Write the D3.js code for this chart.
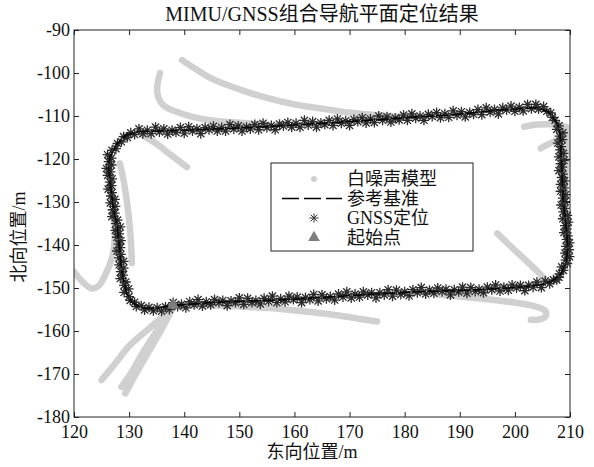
<!DOCTYPE html>
<html>
<head>
<meta charset="utf-8">
<script src="https://cdn.jsdelivr.net/npm/d3@7"></script>
<style>
  body { margin: 0; background: #fff; }
  text { font-family: "Liberation Serif", "Noto Sans CJK SC", serif; fill: #111; }
</style>
</head>
<body>
<div id="chart"></div>
<script>
const chartTitle = "MIMU/GNSS组合导航平面定位结果";
const xLabel = "东向位置/m";
const yLabel = "北向位置/m";
const xTicks = [120, 130, 140, 150, 160, 170, 180, 190, 200, 210];
const yTicks = [-90, -100, -110, -120, -130, -140, -150, -160, -170, -180];
const legendNames = ["白噪声模型", "参考基准", "GNSS定位", "起始点"];

const startPoint = [138.0, -154.0];

// reference trajectory [east, north]
const refPath = [
  [138, -154], [145, -153.4], [150, -153.1], [157, -152.8], [165, -152.2], [172, -151.6],
  [181.5, -150.9], [190, -150.6], [199, -150], [202, -149.7], [205, -149.2], [207, -148.2],
  [208.5, -146.5], [209.3, -144], [209.6, -140.5], [209.3, -136], [208.8, -130], [208.6, -125],
  [208.4, -119], [208.2, -114], [207.6, -111.5], [206, -109], [204, -108], [200, -108.4],
  [197, -108.6], [192, -109.3], [187.5, -109.8], [181, -110.3], [175, -110.9], [166, -111.6],
  [157, -112.3], [148, -112.9], [140, -113.3], [132, -113.6], [129.5, -114.4], [127.8, -116.5],
  [126.5, -119.5], [126.3, -122], [126.6, -126], [127.2, -132], [127.9, -136], [128.2, -140],
  [128.5, -144], [128.8, -147], [129.5, -151], [130.5, -153.3], [132, -154.5], [134, -154.8],
  [136, -154.5], [138, -154]
];

// GNSS fixes [east, north]
const gnssFix = [
  // bottom edge, eastbound
  [138.0, -153.4], [138.8, -154.3], [139.5, -153.8], [140.3, -154.6], [141.0, -153.2], [141.8, -153.9],
  [142.5, -152.7], [143.3, -154.2], [144.0, -153.2], [144.8, -153.9], [145.5, -152.7], [146.3, -153.4],
  [147.0, -152.9], [147.8, -154.1], [148.5, -153.0], [149.3, -153.4], [150.0, -152.3], [150.8, -153.8],
  [151.5, -152.4], [152.3, -153.4], [153.0, -152.9], [153.8, -153.7], [154.5, -152.4], [155.3, -153.1],
  [156.0, -151.9], [156.8, -153.4], [157.5, -152.5], [158.3, -153.2], [159.0, -151.9], [159.8, -152.7],
  [160.5, -152.1], [161.3, -153.4], [162.0, -152.2], [162.8, -152.7], [163.5, -151.5], [164.3, -153.0],
  [165.0, -151.6], [165.8, -152.5], [166.5, -152.0], [167.3, -152.8], [168.0, -151.4], [168.8, -152.1],
  [169.5, -150.9], [170.3, -152.3], [171.0, -151.4], [171.8, -152.1], [172.5, -150.9], [173.3, -151.6],
  [174.0, -151.1], [174.8, -152.3], [175.5, -151.1], [176.3, -151.6], [177.0, -150.4], [177.8, -151.9],
  [178.5, -150.5], [179.3, -151.5], [180.0, -150.9], [180.8, -151.8], [181.5, -150.4], [182.3, -151.1],
  [183.0, -149.9], [183.8, -151.4], [184.5, -150.5], [185.3, -151.2], [186.0, -150.0], [186.8, -150.8],
  [187.5, -150.3], [188.3, -151.6], [189.0, -150.4], [189.8, -150.9], [190.5, -149.8], [191.3, -151.2],
  [192.0, -149.9], [192.8, -150.8], [193.5, -150.3], [194.3, -151.1], [195.0, -149.8], [195.8, -150.4],
  [196.5, -149.3], [197.3, -150.7], [198.0, -149.8], [198.8, -150.5], [199.5, -149.3], [200.3, -150.0],
  [201.0, -149.4], [201.8, -150.6], [202.5, -149.4], [203.3, -149.8], [204.0, -148.6], [204.8, -149.9],
  [205.5, -148.4], [206.3, -149.0], [207.0, -148.1], [207.6, -148.1],
  // right edge, northbound
  [208.0, -147.5], [208.1, -146.7], [208.8, -145.9], [208.5, -145.1], [209.5, -144.3], [209.2, -143.5],
  [209.9, -142.7], [209.1, -141.9], [209.8, -141.1], [209.3, -140.3], [209.9, -139.5], [209.4, -138.7],
  [209.6, -137.9], [208.9, -137.1], [209.4, -136.3], [209.1, -135.5], [209.7, -134.7], [208.7, -133.9],
  [209.5, -133.1], [208.8, -132.3], [209.0, -131.5], [208.4, -130.7], [209.1, -129.9], [208.7, -129.1],
  [209.2, -128.3], [208.3, -127.5], [208.9, -126.7], [208.3, -125.9], [209.0, -125.1], [208.5, -124.3],
  [208.7, -123.5], [208.0, -122.7], [208.6, -121.9], [208.3, -121.1], [208.9, -120.3], [208.0, -119.5],
  [208.8, -118.7], [208.2, -117.9], [208.4, -117.1], [207.8, -116.3], [208.6, -115.5], [208.1, -114.7],
  [208.7, -113.9], [207.6, -113.1], [208.0, -112.3],
  [207.3, -111.0], [206.8, -110.3], [206.5, -109.3], [205.8, -108.9], [205.2, -107.8], [204.3, -108.4],
  [203.8, -107.3],
  // top edge, westbound
  [203.0, -108.3], [202.3, -107.3], [201.5, -108.8], [200.8, -108.0], [200.0, -108.9], [199.3, -107.7],
  [198.5, -108.6], [197.8, -108.1], [197.0, -109.5], [196.3, -108.5], [195.5, -109.1], [194.8, -108.1],
  [194.0, -109.7], [193.3, -108.5], [192.5, -109.6], [191.8, -109.2], [191.0, -110.2], [190.3, -109.0],
  [189.5, -109.8], [188.8, -108.8], [188.0, -110.3], [187.3, -109.5], [186.5, -110.4], [185.8, -109.2],
  [185.0, -110.1], [184.3, -109.6], [183.5, -111.0], [182.8, -110.0], [182.0, -110.5], [181.3, -109.5],
  [180.5, -111.0], [179.8, -109.8], [179.0, -110.9], [178.3, -110.5], [177.5, -111.4], [176.8, -110.2],
  [176.0, -111.0], [175.3, -110.0], [174.5, -111.5], [173.8, -110.7], [173.0, -111.6], [172.3, -110.4],
  [171.5, -111.3], [170.8, -110.8], [170.0, -112.2], [169.3, -111.1], [168.5, -111.7], [167.8, -110.7],
  [167.0, -112.2], [166.3, -111.0], [165.5, -112.0], [164.8, -111.6], [164.0, -112.6], [163.3, -111.3],
  [162.5, -112.1], [161.8, -111.0], [161.0, -112.6], [160.3, -111.7], [159.5, -112.6], [158.8, -111.5],
  [158.0, -112.3], [157.3, -111.9], [156.5, -113.2], [155.8, -112.2], [155.0, -112.7], [154.3, -111.7],
  [153.5, -113.2], [152.8, -112.0], [152.0, -113.0], [151.3, -112.6], [150.5, -113.5], [149.8, -112.3],
  [149.0, -113.0], [148.3, -112.0], [147.5, -113.5], [146.8, -112.7], [146.0, -113.5], [145.3, -112.4],
  [144.5, -113.2], [143.8, -112.7], [143.0, -114.1], [142.3, -113.0], [141.5, -113.5], [140.8, -112.5],
  [140.0, -114.0], [139.3, -112.7], [138.5, -113.8], [137.8, -113.3], [137.0, -114.2], [136.3, -113.0],
  [135.5, -113.7], [134.8, -112.6], [134.0, -114.1], [133.3, -113.3], [132.5, -114.1], [131.8, -113.0],
  [131.0, -114.3], [130.3, -113.9], [129.7, -115.0], [129.0, -114.8], [128.6, -116.0], [127.9, -116.4],
  [127.6, -117.6], [126.9, -118.0],
  // left edge, southbound
  [126.1, -119.0], [126.8, -119.8], [126.3, -120.6], [126.8, -121.4], [125.9, -122.2], [126.6, -123.0],
  [126.1, -123.8], [126.9, -124.6], [126.5, -125.4], [126.8, -126.2], [126.2, -127.0], [126.9, -127.8],
  [126.7, -128.6], [127.4, -129.4], [126.6, -130.2], [127.5, -131.0], [127.0, -131.8], [127.4, -132.6],
  [126.9, -133.4], [127.9, -134.2], [127.6, -135.0], [128.4, -135.8], [127.5, -136.6], [128.2, -137.4],
  [127.8, -138.2], [128.5, -139.0], [128.1, -139.8], [128.4, -140.6], [127.8, -141.4], [128.5, -142.2],
  [128.2, -143.0], [129.0, -143.8], [128.2, -144.6], [129.0, -145.4], [128.5, -146.2], [128.9, -147.0],
  [128.4, -147.8], [129.4, -148.6], [129.1, -149.4], [129.9, -150.2], [129.1, -151.0],
  [130.0, -152.0], [130.2, -152.9], [131.0, -153.3], [131.3, -154.3], [132.2, -154.1], [132.8, -155.1],
  [133.6, -154.5], [134.4, -155.3], [135.1, -154.6], [135.9, -155.4], [136.6, -154.4], [137.3, -155.0]
];

// white-noise model runs (gray tracks)
const noiseTrack1 = [[139.6, -97], [142, -99], [145, -101.3], [150, -103.8], [155, -105.8], [160, -107.3], [165, -108.3], [170, -109.2], [175, -109.8], [181, -110.2]];
const noiseTrack2 = [[135.6, -100], [135.1, -104.4], [136.1, -107.4], [139.2, -109.3], [144.7, -111], [151.4, -111.7], [155, -112.1]];
const noiseTrack3 = [[132.5, -114.5], [135, -116.5], [137.5, -119], [140.5, -121.9]];
const noiseTrack4 = [[128.3, -121], [129, -125], [129.5, -129], [129.9, -133], [130.2, -137], [130.4, -141], [130.5, -144.2]];
const noiseTrack5 = [[120, -146.2], [121.5, -148.5], [123.2, -150.1], [124.5, -149.5], [125.5, -147.4], [126.5, -144.5], [127.1, -141.9], [127.4, -138], [127.5, -134.2]];
const noiseTrack6 = [[137.5, -155], [134, -159], [130, -163.5], [127.5, -167.5], [125, -171.4]];
const noiseTrack7 = [[137.5, -155], [135, -160], [132.5, -165], [130.5, -169.5], [128.6, -173]];
const noiseTrack8 = [[137.8, -155], [135.5, -160.5], [133, -166], [131, -170.5], [129.3, -174.5]];
const noiseTrack9 = [[138, -154], [145, -154], [150, -154.3], [157, -154.8], [163, -155.6], [168, -156.4], [172, -157.2], [175, -157.8]];
const noiseTrack10 = [[186, -151.5], [190, -152], [195, -152.6], [200, -153.4], [203.5, -154.2], [205.5, -155.3], [205.6, -156.5], [204.5, -157.3], [202.9, -157.4]];
const noiseTrack11 = [[196.8, -137.3], [199, -140], [201.5, -143], [204, -146], [205.6, -148.1]];
const noiseTrack12 = [[201.7, -112.5], [204, -112], [206, -111.9], [208, -112.1], [210, -112.9]];
const noiseTrack13 = [[204.7, -117.5], [206.2, -116.5], [208.3, -115.2]];
const noiseTrack14 = [[209.7, -113], [209.5, -118], [209.2, -123], [209, -128], [209.2, -133], [209.5, -138]];
const noiseTracks = [noiseTrack1, noiseTrack2, noiseTrack3, noiseTrack4, noiseTrack5, noiseTrack6, noiseTrack7,
  noiseTrack8, noiseTrack9, noiseTrack10, noiseTrack11, noiseTrack12, noiseTrack13, noiseTrack14];

const WIDTH = 594, HEIGHT = 467;
const margin = {left: 74, right: 24, top: 30, bottom: 50};
const plotW = WIDTH - margin.left - margin.right;
const plotH = HEIGHT - margin.top - margin.bottom;

const svg = d3.select("#chart").append("svg")
  .attr("width", WIDTH)
  .attr("height", HEIGHT);

svg.append("rect").attr("width", WIDTH).attr("height", HEIGHT).attr("fill", "#fff");

const x = d3.scaleLinear().domain([120, 210]).range([0, plotW]);
const y = d3.scaleLinear().domain([-180, -90]).range([plotH, 0]);

const chart = svg.append("g")
  .attr("transform", `translate(${margin.left},${margin.top})`);

const line = d3.line().x(d => x(d[0])).y(d => y(d[1]));

// asterisk marker: plus + cross
function asterisk(s) {
  const d = s * 0.72;
  return `M${-s},0L${s},0M0,${-s}L0,${s}M${-d},${-d}L${d},${d}M${-d},${d}L${d},${-d}`;
}

chart.append("defs").append("clipPath").attr("id", "plotClip")
  .append("rect").attr("width", plotW).attr("height", plotH);

// gray noise-model tracks
chart.append("g").attr("clip-path", "url(#plotClip)")
  .selectAll("path.noise")
  .data(noiseTracks)
  .join("path")
  .attr("class", "noise")
  .attr("d", d3.line().curve(d3.curveCatmullRom).x(d => x(d[0])).y(d => y(d[1])))
  .attr("fill", "none")
  .attr("stroke", "#d0d0d0")
  .attr("stroke-width", 6.5)
  .attr("stroke-linecap", "round")
  .attr("stroke-linejoin", "round");

// GNSS fixes
chart.append("g")
  .selectAll("path.gnss")
  .data(gnssFix)
  .join("path")
  .attr("class", "gnss")
  .attr("transform", d => `translate(${x(d[0])},${y(d[1])})`)
  .attr("d", asterisk(5))
  .attr("fill", "none")
  .attr("stroke", "#2b2b2b")
  .attr("stroke-width", 1.3);

// reference line
chart.append("path")
  .datum(refPath)
  .attr("d", line)
  .attr("fill", "none")
  .attr("stroke", "#000")
  .attr("stroke-width", 1.5)
  .attr("stroke-dasharray", "12,3");

// start point
chart.append("path")
  .attr("transform", `translate(${x(startPoint[0])},${y(startPoint[1])})`)
  .attr("d", d3.symbol(d3.symbolTriangle, 60))
  .attr("fill", "#7d7d7d");

// axes box with inward ticks
const axisColor = "#222";
chart.append("rect")
  .attr("width", plotW).attr("height", plotH)
  .attr("fill", "none").attr("stroke", axisColor).attr("stroke-width", 1);

const tickLen = 5;
const fmt = d => String(d);
const xAxisG = chart.append("g").attr("transform", `translate(0,${plotH})`)
  .call(d3.axisBottom(x).tickValues(xTicks).tickSize(-tickLen).tickPadding(12).tickFormat(fmt));
const xTopG = chart.append("g")
  .call(d3.axisTop(x).tickValues(xTicks).tickSize(-tickLen).tickFormat(""));
const yAxisG = chart.append("g")
  .call(d3.axisLeft(y).tickValues(yTicks).tickSize(-tickLen).tickPadding(4).tickFormat(fmt));
const yRightG = chart.append("g").attr("transform", `translate(${plotW},0)`)
  .call(d3.axisRight(y).tickValues(yTicks).tickSize(-tickLen).tickFormat(""));

[xAxisG, xTopG, yAxisG, yRightG].forEach(g => {
  g.select(".domain").remove();
  g.selectAll(".tick line").attr("stroke", axisColor);
  g.selectAll(".tick text")
    .attr("font-family", "Liberation Serif, serif")
    .attr("font-size", 18)
    .attr("fill", "#111");
});
yAxisG.selectAll(".tick text").attr("dy", "0.33em");
xAxisG.selectAll(".tick text").attr("dy", "0.5em");

// title and axis labels
svg.append("text")
  .attr("x", margin.left + plotW / 2)
  .attr("y", 21)
  .attr("text-anchor", "middle")
  .attr("font-size", 20)
  .text(chartTitle);

svg.append("text")
  .attr("x", margin.left + plotW / 2 - 10)
  .attr("y", 458)
  .attr("text-anchor", "middle")
  .attr("font-size", 18)
  .text(xLabel);

svg.append("text")
  .attr("transform", `translate(25,237) rotate(-90)`)
  .attr("text-anchor", "middle")
  .attr("font-size", 18)
  .text(yLabel);

// legend
const legend = svg.append("g").attr("transform", "translate(271,163)");
legend.append("rect")
  .attr("width", 202).attr("height", 88)
  .attr("fill", "#fff").attr("stroke", "#222").attr("stroke-width", 1);

const rowY = i => 16 + i * 19.5;
const markX = 43;

legend.append("circle").attr("cx", markX).attr("cy", rowY(0)).attr("r", 3).attr("fill", "#d0d0d0");
legend.append("line")
  .attr("x1", 11).attr("x2", 71).attr("y1", rowY(1)).attr("y2", rowY(1))
  .attr("stroke", "#000").attr("stroke-width", 1.4).attr("stroke-dasharray", "17,5");
legend.append("path")
  .attr("transform", `translate(${markX},${rowY(2)})`)
  .attr("d", asterisk(4.6))
  .attr("fill", "none").attr("stroke", "#333").attr("stroke-width", 1);
legend.append("path")
  .attr("transform", `translate(${markX},${rowY(3)})`)
  .attr("d", d3.symbol(d3.symbolTriangle, 60))
  .attr("fill", "#7d7d7d");

legend.selectAll("text.name")
  .data(legendNames)
  .join("text")
  .attr("class", "name")
  .attr("x", 76)
  .attr("y", (d, i) => rowY(i))
  .attr("dy", "0.35em")
  .attr("font-size", 18)
  .text(d => d);
</script>
</body>
</html>
